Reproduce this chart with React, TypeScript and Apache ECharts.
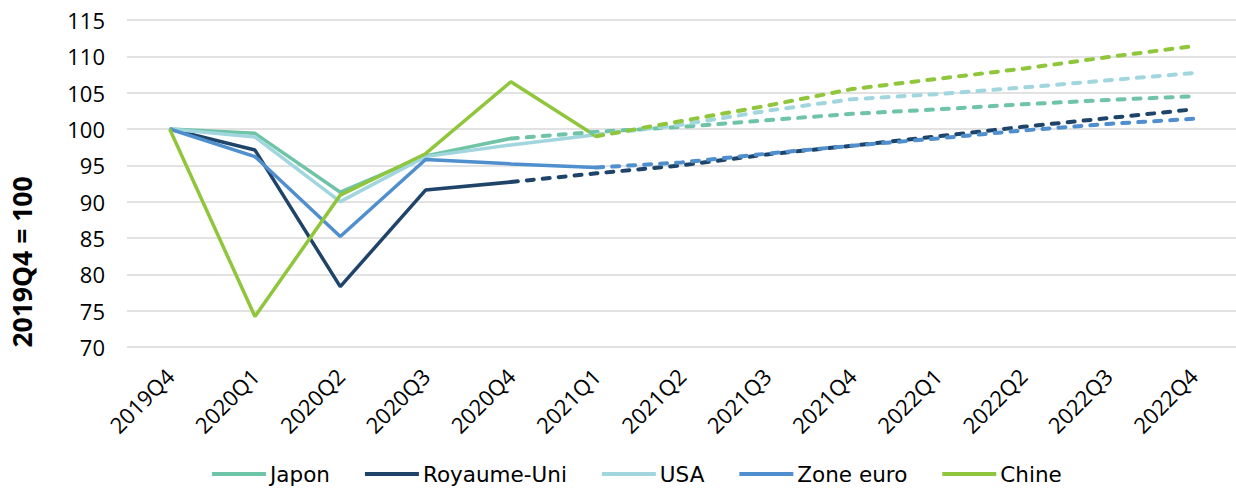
import React, { useEffect, useRef } from "react";
import * as echarts from "echarts";

const categories = ["2019Q4", "2020Q1", "2020Q2", "2020Q3", "2020Q4", "2021Q1", "2021Q2", "2021Q3", "2021Q4", "2022Q1", "2022Q2", "2022Q3", "2022Q4"];

const japon = [100, 99.4, 91.3, 96.3, 98.7, 99.6, 100.3, 101.2, 102.1, 102.7, 103.4, 104.0, 104.5];
const royaumeUni = [100, 97.1, 78.3, 91.6, 92.7, 93.9, 95.0, 96.5, 97.7, 99.0, 100.3, 101.5, 102.7];
const usa = [100, 98.9, 90.0, 96.2, 97.8, 99.2, 100.6, 102.5, 104.1, 104.8, 105.7, 106.7, 107.7];
const zoneEuro = [100, 96.2, 85.2, 95.8, 95.2, 94.7, 95.4, 96.6, 97.7, 98.7, 99.8, 100.7, 101.4];
const chine = [100, 74.2, 90.9, 96.6, 106.5, 99.0, 101.1, 103.2, 105.5, 106.9, 108.3, 109.9, 111.4];

// index of the last observed (solid) point for each series
const countries = [
  { name: "Japon", values: japon, lastSolid: 4, color: "#6fc3a6" },
  { name: "Royaume-Uni", values: royaumeUni, lastSolid: 4, color: "#1f4469" },
  { name: "USA", values: usa, lastSolid: 5, color: "#a2d6de" },
  { name: "Zone euro", values: zoneEuro, lastSolid: 5, color: "#4f8fcd" },
  { name: "Chine", values: chine, lastSolid: 5, color: "#8fc63c" },
];

const yTitle = "2019Q4 = 100";

export default function App() {
  const ref = useRef<HTMLDivElement>(null);
  useEffect(() => {
    if (!ref.current) return;
    const chart = echarts.init(ref.current, null, { renderer: "svg" });
    const series: any[] = [];
    countries.forEach((c) => {
      series.push({
        name: c.name,
        type: "line",
        data: c.values.map((v, i) => (i <= c.lastSolid ? v : null)),
        symbol: "none",
        lineStyle: { color: c.color, width: 3.5 },
        itemStyle: { color: c.color },
        z: 2,
      });
    });
    countries.forEach((c) => {
      series.push({
        name: c.name + " (prévision)",
        type: "line",
        data: c.values.map((v, i) => (i >= c.lastSolid ? v : null)),
        symbol: "none",
        lineStyle: { color: c.color, width: 4, type: [7, 9], cap: "round" },
        itemStyle: { color: c.color },
        z: 2,
      });
    });

    // legend drawn as graphic items (only the observed series, as in the original)
    const legendFont = "DejaVu Sans";
    const legendFontSize = 21.5;
    const canvas = document.createElement("canvas");
    const ctx = canvas.getContext("2d")!;
    ctx.font = `${legendFontSize}px "${legendFont}"`;
    const legendItems: any[] = [];
    let lx = 212;
    const ly = 474;
    countries.forEach((c) => {
      legendItems.push({
        type: "rect",
        shape: { x: lx, y: ly - 2, width: 54, height: 4 },
        style: { fill: c.color },
      });
      const tw = ctx.measureText(c.name).width;
      legendItems.push({
        type: "text",
        x: lx + 58,
        y: ly,
        style: {
          text: c.name,
          fontFamily: legendFont,
          fontSize: legendFontSize,
          fill: "#000",
          textAlign: "left",
          textVerticalAlign: "middle",
        },
      });
      lx += 58 + tw + 35;
    });

    chart.setOption({
      animation: false,
      grid: { left: 127, top: 20, width: 1113, bottom: 141, containLabel: false },
      xAxis: {
        type: "category",
        data: categories,
        boundaryGap: true,
        axisLine: { show: false },
        axisTick: { show: false },
        axisLabel: {
          rotate: 45,
          fontFamily: "Open Sans",
          fontSize: 22,
          color: "#000",
          margin: 25,
          interval: 0,
        },
      },
      yAxis: {
        type: "value",
        min: 70,
        max: 115,
        interval: 5,
        axisLine: { show: false },
        axisTick: { show: false },
        axisLabel: {
          fontFamily: "Open Sans",
          fontSize: 22,
          color: "#000",
          margin: 22,
        },
        splitLine: { lineStyle: { color: "#d9d9d9", width: 1.5 } },
      },
      graphic: [
        {
          type: "text",
          x: 22,
          y: 262,
          rotation: Math.PI / 2,
          style: {
            text: yTitle,
            fontFamily: "Open Sans",
            fontWeight: "bold",
            fontSize: 26.5,
            fill: "#000",
            textAlign: "center",
            textVerticalAlign: "middle",
          },
        },
        ...legendItems,
      ],
      series,
    });
    return () => chart.dispose();
  }, []);
  return <div ref={ref} style={{ position: "absolute", left: 0, top: 0, width: 1236, height: 488 }} />;
}
